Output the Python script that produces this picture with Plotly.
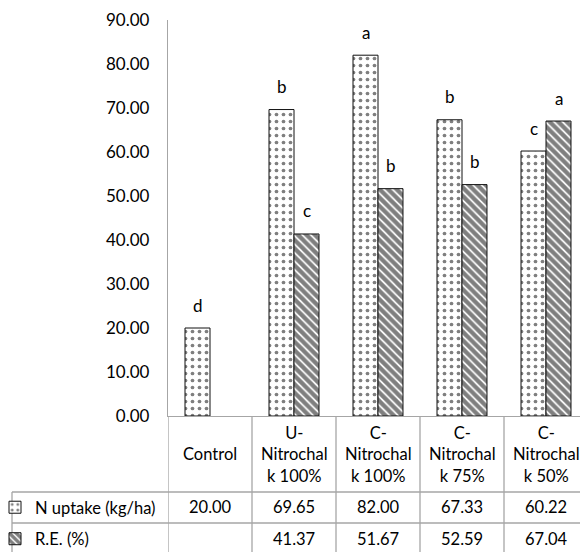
import plotly.graph_objects as go

categories = ["Control", "U-Nitrochalk 100%", "C-Nitrochalk 100%", "C-Nitrochalk 75%", "C-Nitrochalk 50%"]
cat_labels = ["Control", "U-<br>Nitrochal<br>k 100%", "C-<br>Nitrochal<br>k 100%", "C-<br>Nitrochal<br>k 75%", "C-<br>Nitrochal<br>k 50%"]
n_uptake = [20.00, 69.65, 82.00, 67.33, 60.22]
re_pct = [None, 41.37, 51.67, 52.59, 67.04]
n_letters = ["d", "b", "a", "b", "c"]
re_letters = ["", "c", "b", "b", "a"]
y_ticks = [0, 10, 20, 30, 40, 50, 60, 70, 80, 90]
series_names = ["N uptake (kg/ha)", "R.E. (%)"]

# page has an 8px body margin -> figure is 8px smaller and all target pixels shift by 8
OFF = 8
W, H = 588 - OFF, 552 - OFF
L, R, T, B = 168 - OFF, 0, 20 - OFF, 552 - 416
PW, PH = W - L - R, H - T - B
FONT = "Lato"
GRID = "#A6A6A6"


def px(p):
    """target-window pixel x -> paper x"""
    return (p - OFF - L) / PW


def py(p):
    """target-window pixel y -> paper y"""
    return (H - B - (p - OFF)) / PH


fig = go.Figure()
fig.add_trace(go.Bar(
    x=categories, y=n_uptake, name=series_names[0], legend="legend",
    marker=dict(color="white", line=dict(color="#111111", width=1),
                pattern=dict(shape=".", fgcolor="black", bgcolor="white", size=7, solidity=0.22)),
))
fig.add_trace(go.Bar(
    x=categories, y=re_pct, name=series_names[1], legend="legend2",
    marker=dict(color="white", line=dict(color="#111111", width=1),
                pattern=dict(shape="\\", fgcolor="black", bgcolor="white", size=6, solidity=0.7)),
))

ann = []
half = 12.5
for c, v, t in zip(categories, n_uptake, n_letters):
    ann.append(dict(x=c, y=v, xref="x", yref="y", text=t, showarrow=False,
                    xshift=-half, yshift=23, font=dict(size=17, color="black", family=FONT)))
for c, v, t in zip(categories, re_pct, re_letters):
    if v is not None and t:
        ann.append(dict(x=c, y=v, xref="x", yref="y", text=t, showarrow=False,
                        xshift=half, yshift=23, font=dict(size=17, color="black", family=FONT)))

# data table text
for c, lab in zip(categories, cat_labels):
    ann.append(dict(x=c, y=py(454), xref="x", yref="paper", text=lab, showarrow=False,
                    yanchor="middle", font=dict(size=16.5, color="black", family=FONT)))
for c, v in zip(categories, n_uptake):
    ann.append(dict(x=c, y=py(507.5), xref="x", yref="paper", text=f"{v:.2f}", showarrow=False,
                    yanchor="middle", font=dict(size=16.5, color="black", family=FONT)))
for c, v in zip(categories, re_pct):
    if v is not None:
        ann.append(dict(x=c, y=py(539), xref="x", yref="paper", text=f"{v:.2f}", showarrow=False,
                        yanchor="middle", font=dict(size=16.5, color="black", family=FONT)))

shapes = []
for yy in (492, 523, 554):
    shapes.append(dict(type="line", xref="paper", yref="paper", x0=px(12), x1=1.0,
                       y0=py(yy), y1=py(yy), line=dict(color=GRID, width=1.3)))
shapes.append(dict(type="line", xref="paper", yref="paper", x0=px(12), x1=px(12),
                   y0=py(492), y1=py(560), line=dict(color=GRID, width=1.3)))
for i in range(len(categories) + 1):
    shapes.append(dict(type="line", xref="x", yref="paper", x0=i - 0.5, x1=i - 0.5,
                       y0=0, y1=py(560), line=dict(color=GRID, width=1.3)))

fig.update_layout(
    width=W, height=H,
    margin=dict(l=L, r=R, t=T, b=B, autoexpand=False),
    paper_bgcolor="white", plot_bgcolor="white",
    barmode="group", bargap=0.405, bargroupgap=0,
    font=dict(family=FONT, color="black"),
    annotations=ann, shapes=shapes,
    legend=dict(x=px(-5), y=py(507.5), xanchor="left", yanchor="middle",
                bgcolor="rgba(0,0,0,0)", font=dict(size=16.5, family=FONT, color="black"),
                itemwidth=30),
    legend2=dict(x=px(-5), y=py(539), xanchor="left", yanchor="middle",
                 bgcolor="rgba(0,0,0,0)", font=dict(size=16.5, family=FONT, color="black"),
                 itemwidth=30),
    showlegend=True,
)
fig.update_xaxes(range=[-0.5, len(categories) - 0.5], showticklabels=False, ticks="",
                 showline=True, linecolor=GRID, linewidth=1.3, showgrid=False, zeroline=False,
                 fixedrange=True)
fig.update_yaxes(range=[0, 90], tickvals=y_ticks, tickformat=".2f", showline=True,
                 linecolor=GRID, linewidth=1.3, showgrid=False, zeroline=False, ticks="",
                 ticklabelstandoff=14, tickfont=dict(size=17, family=FONT, color="black"))

fig.write_html("out.html")
